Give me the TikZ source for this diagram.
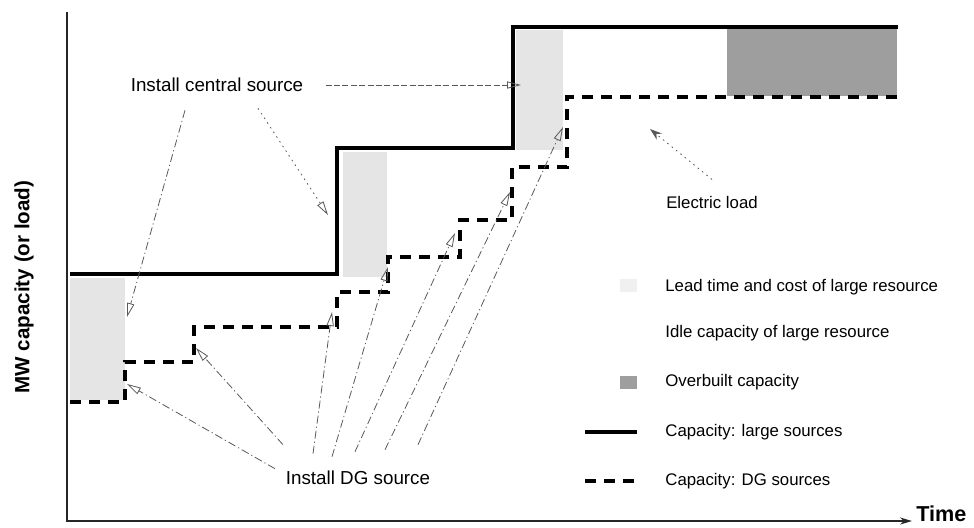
\documentclass[tikz,border=0pt]{standalone}
\usepackage{fontspec}
\setmainfont{Liberation Sans}
\usetikzlibrary{arrows.meta,positioning}
\tikzset{bigcap/.style={draw=black,line width=1.7pt,line join=miter},dgcap/.style={draw=black,line width=2pt,dash pattern=on 5.5pt off 4pt},leadzone/.style={fill=black!10},overzone/.style={fill=black!38},axisline/.style={draw=black!85,line width=.55pt},callout/.style={draw=black!65,line width=.4pt,dash pattern=on 4pt off 1.5pt on .6pt off 1.5pt,-{Triangle[open,length=7pt,width=3.6pt]}},calltext/.style={font=\fontsize{9.4}{11}\selectfont,inner sep=1pt},legtext/.style={font=\fontsize{8.4}{10}\selectfont,anchor=west,inner sep=0pt}}

\begin{document}
\begin{tikzpicture}[x=.5pt,y=-.5pt]
\useasboundingbox (0,0) rectangle (974,527);
% shaded zones
\fill[leadzone] (70,278) rectangle (125,400);
\fill[leadzone] (343,152) rectangle (387,277);
\fill[leadzone] (516,30) rectangle (563,150);
\fill[overzone] (727,29) rectangle (897,96);
% axes
\node[font=\bfseries\fontsize{10.3}{12}\selectfont,rotate=90] (ylab) at (24,287) {MW capacity (or load)};
\node[font=\bfseries\fontsize{10.8}{12}\selectfont,anchor=west,inner sep=1pt] (time) at (914,514) {Time};
\coordinate (origin) at (67,521);
\coordinate (xend) at (912,521);
\draw[axisline,-{Stealth[length=6pt,width=3.5pt]}] (67,12) -- (origin) -- (xend);
% capacity steps
\draw[bigcap] (70,274) -| (337,148) -| (513,27) -- (898,27);
\draw[dgcap] (70,402) -| (125,362) -| (194,327) -| (337,292) -| (388,257) -| (460,220) -| (512,167) -| (567,97) -- (898,97);
% callouts
\node[calltext] (ics) at (217,85) {Install central source};
\node[calltext] (dg) at (358,478) {Install DG source};
\node[legtext,anchor=center] (load) at (712,202) {Electric load};
\coordinate (c1) at (521,85);
\coordinate (c2) at (127,317);
\coordinate (c3) at (328,215);
\coordinate (loadtip) at (650,129);
\draw[callout,dash pattern=on 3pt off 1.2pt] ([xshift=10pt]ics.east) -- (c1);
\draw[callout] ([shift={(-32,16)}]ics.south) -- (c2);
\draw[callout,dash pattern=on .8pt off 2pt] ([shift={(41,14)}]ics.south) -- (c3);
\draw[callout,dash pattern=on .8pt off 2pt,-{Stealth[length=6pt,width=4pt]}] ([shift={(0,-16)}]load.north) -- (loadtip);
\foreach \tip/\px/\py in {a/127/384,b/196/348,c/332/312,d/388/267,e/455/233,f/510/192,g/563/127}
  \coordinate (dg\tip) at (\px,\py);
\foreach \dx/\dy/\tip in {-83/0/a,-75/-24/b,-45/-15/c,-26/-12/d,-3/-17/e,27/-19/f,60/-24/g}
  \draw[callout] ([shift={(\dx,\dy)}]dg.north) -- (dg\tip);
% legend
\node[legtext] (leglead) at (665,287) {Lead time and cost of large resource};
\node[legtext] (legidle) at (665,333) {Idle capacity of large resource};
\node[legtext] (legover) at (665,382) {Overbuilt capacity};
\node[legtext] (legbig) at (665,432) {Capacity: large sources};
\node[legtext] (legdg) at (665,481) {Capacity: DG sources};
\fill[black!6] (620,279) rectangle (637,292);
\fill[overzone] (620,376) rectangle (637,389);
\draw[bigcap] (585,432) -- (637,432);
\draw[dgcap] (585,481) -- (637,481);
\end{tikzpicture}
\end{document}
